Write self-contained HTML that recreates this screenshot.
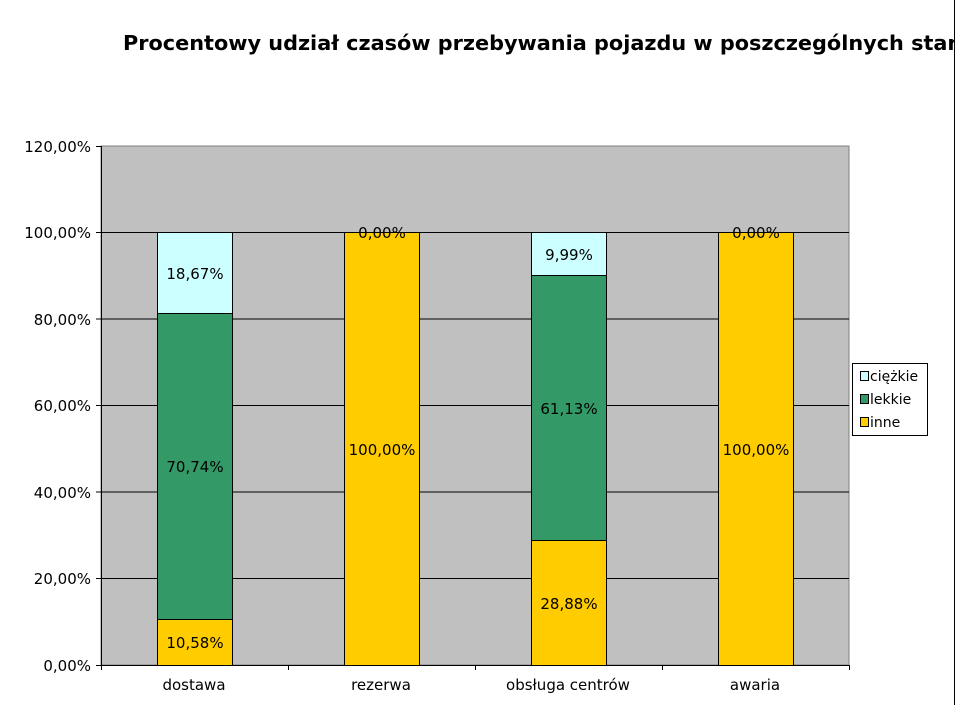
<!DOCTYPE html>
<html><head><meta charset="utf-8"><style>body{margin:0;background:#fff}svg{display:block}</style></head><body>
<svg width="956" height="705" xmlns="http://www.w3.org/2000/svg" font-family="DejaVu Sans, Liberation Sans, sans-serif">
<rect x="0" y="0" width="956" height="705" fill="#fff"/>
<text x="123" y="50" font-size="20.8" font-weight="bold">Procentowy udział czasów przebywania pojazdu w poszczególnych stanach</text>
<rect x="954" y="0" width="2" height="705" fill="#fff"/>
<line x1="954.5" y1="0" x2="954.5" y2="705" stroke="#000"/>
<rect x="101" y="146" width="748" height="519" fill="#c0c0c0" stroke="#808080"/>
<g stroke="#000" stroke-width="1">
<line x1="101" y1="232.5" x2="849" y2="232.5"/>
<line x1="101" y1="319" x2="849" y2="319"/>
<line x1="101" y1="405.5" x2="849" y2="405.5"/>
<line x1="101" y1="492" x2="849" y2="492"/>
<line x1="101" y1="578.5" x2="849" y2="578.5"/>
<line x1="101" y1="665.5" x2="849" y2="665.5"/>
<line x1="101.5" y1="146" x2="101.5" y2="665"/>
<g>
<line x1="96" y1="146.5" x2="101" y2="146.5"/><line x1="96" y1="232.5" x2="101" y2="232.5"/><line x1="96" y1="319" x2="101" y2="319"/><line x1="96" y1="405.5" x2="101" y2="405.5"/><line x1="96" y1="492" x2="101" y2="492"/><line x1="96" y1="578.5" x2="101" y2="578.5"/><line x1="96" y1="665.5" x2="101" y2="665.5"/>
<line x1="288.5" y1="665" x2="288.5" y2="670"/><line x1="475.5" y1="665" x2="475.5" y2="670"/><line x1="662.5" y1="665" x2="662.5" y2="670"/><line x1="849.5" y1="665" x2="849.5" y2="670"/><line x1="101.5" y1="665" x2="101.5" y2="670"/>
</g>
<rect x="157.5" y="619.5" width="75" height="46" fill="#ffcc00"/>
<rect x="157.5" y="313.5" width="75" height="306" fill="#339966"/>
<rect x="157.5" y="232.5" width="75" height="81" fill="#ccffff"/>
<rect x="344.5" y="232.5" width="75" height="433" fill="#ffcc00"/>
<rect x="531.5" y="540.5" width="75" height="125" fill="#ffcc00"/>
<rect x="531.5" y="275.5" width="75" height="265" fill="#339966"/>
<rect x="531.5" y="232.5" width="75" height="43" fill="#ccffff"/>
<rect x="718.5" y="232.5" width="75" height="433" fill="#ffcc00"/>
</g>
<g font-size="15" text-anchor="middle" fill="#000">
<text x="195" y="648">10,58%</text>
<text x="195" y="472">70,74%</text>
<text x="195" y="279">18,67%</text>
<text x="382" y="455">100,00%</text>
<text x="382" y="238">0,00%</text>
<text x="569" y="609">28,88%</text>
<text x="569" y="414">61,13%</text>
<text x="569" y="260">9,99%</text>
<text x="756" y="455">100,00%</text>
<text x="756" y="238">0,00%</text>
</g>
<g font-size="15" text-anchor="end">
<text x="91" y="152">120,00%</text><text x="91" y="238">100,00%</text><text x="91" y="325">80,00%</text><text x="91" y="411">60,00%</text><text x="91" y="498">40,00%</text><text x="91" y="584">20,00%</text><text x="91" y="671">0,00%</text>
</g>
<g font-size="15" text-anchor="middle">
<text x="194" y="690">dostawa</text><text x="381" y="690">rezerwa</text><text x="568" y="690">obsługa centrów</text><text x="755" y="690">awaria</text>
</g>
<rect x="852.5" y="363.5" width="75" height="72" fill="#fff" stroke="#000"/>
<rect x="860.5" y="371.5" width="8" height="9" fill="#ccffff" stroke="#000"/>
<rect x="860.5" y="394.5" width="8" height="9" fill="#339966" stroke="#000"/>
<rect x="860.5" y="417.5" width="8" height="9" fill="#ffcc00" stroke="#000"/>
<g font-size="14"><text x="870" y="381">ciężkie</text><text x="870" y="404">lekkie</text><text x="870" y="427">inne</text></g>
</svg>
</body></html>
